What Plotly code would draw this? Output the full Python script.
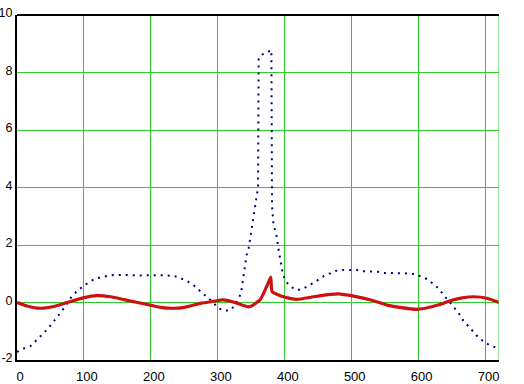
import plotly.graph_objects as go

blue_x = [0, 10, 20, 30, 40, 50, 60, 70, 80, 90, 100, 110, 120, 130, 140, 160, 180, 200, 220, 235,
          245, 255, 263, 270, 278, 286, 293, 300, 308, 318, 326, 332, 335, 337, 339, 341, 343, 346,
          348, 351, 353, 356, 360, 361, 364, 372, 380, 381, 383, 388, 390, 393, 395, 397, 402, 410,
          419, 428, 437, 446, 455, 465, 476, 487, 497, 508, 518, 529, 539, 548, 558, 577, 588, 598,
          607, 614, 622, 630, 637, 645, 652, 659, 665, 673, 680, 689, 698, 706, 715, 720]
blue_y = [-1.72, -1.6, -1.52, -1.3, -1.06, -0.8, -0.5, -0.2, 0.15, 0.41, 0.58, 0.75, 0.85, 0.91, 0.95,
          0.96, 0.94, 0.95, 0.95, 0.92, 0.84, 0.73, 0.62, 0.47, 0.32, 0.15, 0.0, -0.18, -0.28, -0.28,
          -0.09, 0.17, 0.38, 0.67, 1.0, 1.4, 1.65, 1.88, 2.17, 2.52, 2.87, 3.39, 4.0, 8.46, 8.61, 8.67,
          8.78, 3.33, 2.75, 2.29, 1.94, 1.48, 1.2, 0.99, 0.72, 0.53, 0.43, 0.49, 0.61, 0.72, 0.88, 0.98,
          1.1, 1.13, 1.13, 1.13, 1.09, 1.08, 1.07, 1.03, 1.02, 1.02, 1.01, 0.96, 0.88, 0.8, 0.64, 0.48,
          0.27, 0.06, -0.15, -0.34, -0.58, -0.78, -0.98, -1.21, -1.37, -1.49, -1.56, -1.6]

red_x = [0, 15, 35, 55, 75, 100, 119, 140, 160, 180, 199, 215, 233, 250, 274, 293, 308, 323, 335,
         346, 352, 358, 363, 368, 374, 379, 381, 390, 398, 418, 443, 468, 480, 503, 530, 553, 572,
         597, 610, 630, 647, 665, 682, 702, 720]
red_y = [0.0, -0.12, -0.2, -0.14, 0.0, 0.17, 0.24, 0.2, 0.1, 0.0, -0.09, -0.17, -0.2, -0.17, -0.03,
         0.04, 0.09, 0.02, -0.08, -0.15, -0.1, 0.0, 0.09, 0.3, 0.61, 0.88, 0.38, 0.27, 0.2, 0.11, 0.2,
         0.28, 0.3, 0.22, 0.08, -0.09, -0.17, -0.24, -0.2, -0.08, 0.06, 0.16, 0.2, 0.15, 0.0]

x_ticks = [0, 100, 200, 300, 400, 500, 600, 700]
y_ticks = [-2, 0, 2, 4, 6, 8, 10]

GRID = "#2ccc2c"

fig = go.Figure()
fig.add_trace(go.Scatter(x=blue_x, y=blue_y, mode="lines",
                         line=dict(color="#000080", width=2, dash="2px,5px"),
                         showlegend=False, hoverinfo="skip"))
fig.add_trace(go.Scatter(x=red_x, y=red_y, mode="lines",
                         line=dict(color="#cc1111", width=3.2, shape="spline", smoothing=0.5),
                         showlegend=False, hoverinfo="skip"))

fig.add_shape(type="line", xref="x", yref="y", x0=720, x1=720, y0=-2, y1=10,
              line=dict(color=GRID, width=1))

fig.update_layout(
    width=524, height=384,
    margin=dict(l=17, r=25, t=15, b=24, autoexpand=False),
    paper_bgcolor="white", plot_bgcolor="white",
    font=dict(family="Liberation Sans, Arial, sans-serif", size=13, color="black"),
    xaxis=dict(range=[0, 720], tickvals=x_ticks, ticktext=[str(v) for v in x_ticks],
               showgrid=True, gridcolor=GRID, gridwidth=1, zeroline=False,
               showline=True, linecolor="black", linewidth=2, mirror=False,
               ticks="", ticklabelshift=3, ticklabelstandoff=3, automargin=False),
    yaxis=dict(range=[-2, 10], tickvals=y_ticks, ticktext=[str(v) for v in y_ticks],
               showgrid=True, gridcolor=GRID, gridwidth=1, zeroline=False,
               showline=True, linecolor="black", linewidth=2,
               tickfont=dict(size=12.5),
               ticks="", ticklabelstandoff=0, ticklabelshift=-2, automargin=False),
)
fig.add_shape(type="line", xref="paper", yref="paper", x0=0, x1=1, y0=1, y1=1,
              line=dict(color="black", width=2))

fig.write_html("out.html", config={"displayModeBar": False},
               post_script="document.body.style.margin='0';document.body.style.overflow='hidden';")
